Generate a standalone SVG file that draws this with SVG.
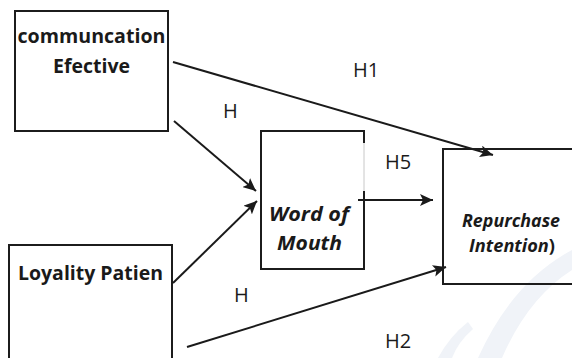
<svg xmlns="http://www.w3.org/2000/svg" width="572" height="358" viewBox="0 0 572 358">
<defs>
<style>
.box{fill:none;stroke:#1c1c1c;stroke-width:2}
.bt{font-family:"Open Sans","Liberation Sans",sans-serif;font-weight:bold;fill:#1a1a1a;text-anchor:middle}
.bi{font-family:"Open Sans","Liberation Sans",sans-serif;font-weight:bold;font-style:italic;fill:#1a1a1a;text-anchor:middle}
.lab{font-family:"Open Sans","Liberation Sans",sans-serif;font-size:20px;fill:#1a1a1a}
.con{stroke:#1a1a1a;stroke-width:2;fill:none;marker-end:url(#ah)}
</style>
<marker id="ah" markerUnits="userSpaceOnUse" markerWidth="14" markerHeight="12" refX="13" refY="6" orient="auto">
<path d="M0,0 L13,6 L0,12 L3,6 Z" fill="#1a1a1a"/>
</marker>
</defs>
<rect width="572" height="358" fill="#ffffff"/>
<g id="watermark" fill="#f0f3f8">
<path d="M478,358 Q512,282 572,250 L572,270 Q528,298 502,358 Z"/>
<path d="M438,358 Q450,336 468,322 L473,329 Q458,342 452,358 Z"/>
</g>
<g id="connectors">
<line class="con" x1="173" y1="62" x2="493" y2="155"/>
<line class="con" x1="174" y1="121" x2="256" y2="191"/>
<line class="con" x1="173" y1="283" x2="257" y2="201"/>
<line class="con" x1="358" y1="200" x2="433" y2="200"/>
<line class="con" x1="187" y1="347" x2="446" y2="267"/>
</g>
<g id="labels">
<text class="lab" x="353" y="77">H1</text>
<text class="lab" x="223" y="118">H</text>
<text class="lab" x="385" y="169">H5</text>
<text class="lab" x="234" y="302">H</text>
<text class="lab" x="385" y="348">H2</text>
</g>
<g id="communication">
<rect class="box" x="15" y="11" width="153" height="120"/>
<text class="bt" x="91.5" y="43" font-size="20" textLength="148" lengthAdjust="spacingAndGlyphs">communcation</text>
<text class="bt" x="91.5" y="73" font-size="20" textLength="77" lengthAdjust="spacingAndGlyphs">Efective</text>
</g>
<g id="wom">
<path class="box" d="M364,143 L364,131 L261,131 L261,269 L364,269 L364,191"/>
<line x1="364" y1="143" x2="364" y2="191" stroke="#c8c8c8" stroke-width="1"/>
<text class="bi" x="309" y="221" font-size="20" textLength="80" lengthAdjust="spacingAndGlyphs">Word of</text>
<text class="bi" x="309.5" y="250" font-size="20" textLength="65" lengthAdjust="spacingAndGlyphs">Mouth</text>
</g>
<g id="repurchase">
<rect class="box" x="443" y="149" width="140" height="135"/>
<text class="bi" x="511" y="227" font-size="17" textLength="98" lengthAdjust="spacingAndGlyphs">Repurchase</text>
<text class="bi" x="512" y="252" font-size="17" textLength="86" lengthAdjust="spacingAndGlyphs">Intention<tspan font-style="normal">)</tspan></text>
</g>
<g id="loyality">
<rect class="box" x="9" y="245" width="163" height="130"/>
<text class="bt" x="90.5" y="280" font-size="20" textLength="145" lengthAdjust="spacingAndGlyphs">Loyality Patien</text>
</g>
</svg>
